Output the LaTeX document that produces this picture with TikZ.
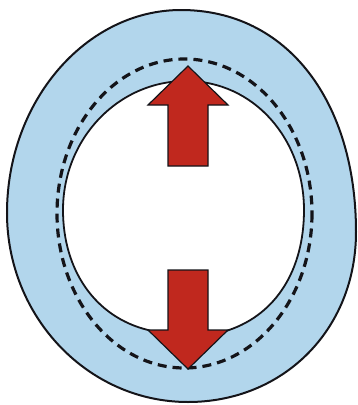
\documentclass[tikz,border=0pt]{standalone}
\usepackage{xcolor}
\usepackage{tikz}
\definecolor{ringblue}{RGB}{178,214,236}
\definecolor{arrred}{RGB}{192,40,30}
\definecolor{mydark}{RGB}{20,20,25}
\tikzset{
  ring/.style={fill=ringblue, draw=mydark, line width=2pt},
  hole/.style={fill=white, draw=mydark, line width=1.8pt},
  dashring/.style={draw=mydark, line width=3.2pt, dash pattern=on 9pt off 6pt},
  bigarrow/.style={fill=arrred, draw=mydark, line width=1.2pt, line join=miter}
}

\begin{document}
\begin{tikzpicture}[x=1pt, y=-1pt]
  \useasboundingbox (0,0) rectangle (358,405);

  % outer wall
  \coordinate (wl) at (7,213);
  \coordinate (wt) at (181,10);
  \coordinate (wr) at (356,232);
  \coordinate (wb) at (188,402);
  \path[ring] (wl) .. controls (7,101) and (86,10) .. (wt)
    .. controls (287,10) and (356,101) .. (wr)
    .. controls (356,330) and (283,402) .. (wb)
    .. controls (88,402) and (7,317) .. (wl) -- cycle;

  % lumen
  \coordinate (hl) at (63,210);
  \coordinate (ht) at (186,81);
  \coordinate (hr) at (304,210);
  \coordinate (hbl) at (148,330);
  \coordinate (hbr) at (229,330);
  \path[hole] (hbl) .. controls (95,317) and (63,270) .. (hl)
    .. controls (63,139) and (118,81) .. (ht)
    .. controls (254,81) and (304,139) .. (hr)
    .. controls (304,270) and (276,314) .. (hbr)
    -- (188,345) -- cycle;

  % dashed midline
  \draw[dashring] (184.5,213.5) ellipse [x radius=127.5, y radius=154.5];

  % arrows
  \path[bigarrow] (188,66) coordinate (uptip) -- (228,105) -- (208,105)
    -- (208,166) -- (168,166) -- (168,105) -- (148,105) -- cycle;
  \path[bigarrow] (188,369) coordinate (downtip) -- (148,330) -- (168,330)
    -- (168,270) -- (208,270) -- (208,330) -- (228,330) -- cycle;
\end{tikzpicture}
\end{document}
